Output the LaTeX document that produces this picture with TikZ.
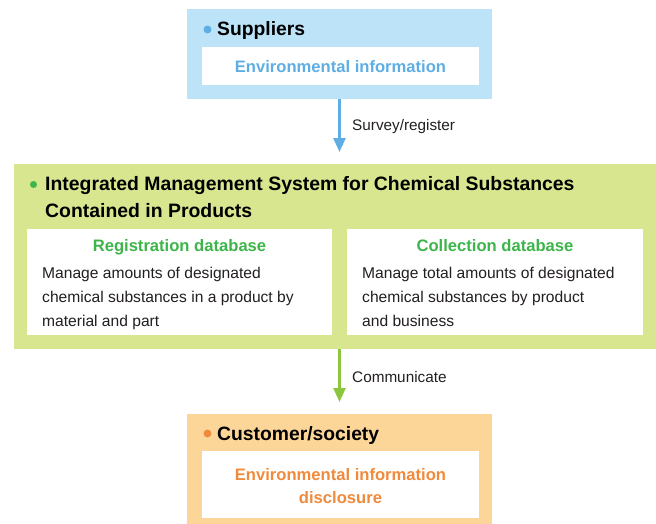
\documentclass[tikz,border=0pt]{standalone}
\usepackage{fontspec}
\setmainfont{Liberation Sans}
\usetikzlibrary{arrows.meta}
\definecolor{bluebg}{HTML}{BDE3F8}
\definecolor{bluefg}{HTML}{5FAEE3}
\definecolor{greenbg}{HTML}{D9E690}
\definecolor{greenfg}{HTML}{3DB54A}
\definecolor{greenarr}{HTML}{8CC63F}
\definecolor{orangebg}{HTML}{FCD699}
\definecolor{orangefg}{HTML}{F08A3C}
\definecolor{textgray}{HTML}{231F20}
\begin{document}
\begin{tikzpicture}[x=1pt,y=-1pt,
  panel/.style={draw=none, inner sep=0pt, outer sep=0pt, anchor=north west},
  whitebox/.style={fill=white, draw=none, inner sep=0pt, outer sep=0pt, anchor=north west},
  heading/.style={anchor=base west, inner sep=0pt, font=\fontsize{19.3}{21}\selectfont\bfseries, text=black},
  subtitle/.style={anchor=base, inner sep=0pt, font=\fontsize{16.6}{18}\selectfont\bfseries},
  body/.style={anchor=north west, inner sep=0pt, align=left, font=\fontsize{15.6}{24}\selectfont, text=textgray},
  lbl/.style={anchor=west, inner sep=0pt, font=\fontsize{15.3}{16}\selectfont, text=textgray},
  flow/.style={line width=2.5pt, -{Triangle[width=12pt,length=14pt]}},
  dot/.style={circle, inner sep=0pt, minimum size=8pt}
]
\useasboundingbox (0,0) rectangle (656,523);

% Suppliers
\node[panel, fill=bluebg, minimum width=305pt, minimum height=90pt] (sup) at (187,9) {};
\node[whitebox, minimum width=277pt, minimum height=38pt] (supw) at (202,47) {};
\node[dot, fill=bluefg] (supdot) at (207.5,29.5) {};
\node[heading] (suph) at (217,35) {Suppliers};
\node[subtitle, text=bluefg] (supt) at (340.5,72) {Environmental information};

% Integrated system
\node[panel, fill=greenbg, minimum width=642pt, minimum height=185pt] (ims) at (14,164) {};
\node[dot, fill=greenfg, minimum size=7pt] (imsdot) at (33.5,184.5) {};
\node[heading, font=\fontsize{19.4}{27}\selectfont\bfseries, align=left, anchor=north west] (imsh) at (45,176) {Integrated Management System for Chemical Substances\\Contained in Products};
\node[whitebox, minimum width=305pt, minimum height=106pt] (reg) at (27,229) {};
\node[whitebox, minimum width=296pt, minimum height=106pt] (col) at (347,229) {};
\node[subtitle, text=greenfg] (regt) at (179.5,251) {Registration database};
\node[subtitle, text=greenfg] (colt) at (495,251) {Collection database};
\node[body] (regb) at (42,267) {Manage amounts of designated\\chemical substances in a product by\\material and part};
\node[body] (colb) at (362,267) {Manage total amounts of designated\\chemical substances by product\\and business};

% Customer
\node[panel, fill=orangebg, minimum width=305pt, minimum height=115pt] (cus) at (187,414) {};
\node[whitebox, minimum width=277pt, minimum height=67pt] (cusw) at (202,451) {};
\node[dot, fill=orangefg] (cusdot) at (207.5,433.5) {};
\node[heading] (cush) at (217,440) {Customer/society};
\node[subtitle, text=orangefg] (cust1) at (340.5,480) {Environmental information};
\node[subtitle, text=orangefg] (cust2) at (340.5,503) {disclosure};

% Arrows
\draw[flow, bluefg, shorten >=12pt] (sup.south) -- (sup.south |- ims.north);
\node[lbl] (l1) at (352,127) {Survey/register};
\draw[flow, greenarr, shorten >=12pt] (sup.south |- ims.south) -- (cus.north);
\node[lbl] (l2) at (352,377) {Communicate};
\end{tikzpicture}
\end{document}
